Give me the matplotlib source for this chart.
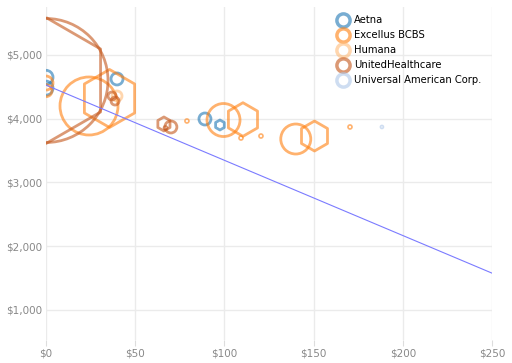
import matplotlib
matplotlib.use("Agg")
import matplotlib.pyplot as plt
from matplotlib.lines import Line2D
from matplotlib.ticker import FuncFormatter

# ---- data ----
companies = ["Aetna", "Excellus BCBS", "Humana", "UnitedHealthcare", "Universal American Corp."]
colors = ["#1f77b4", "#ff7f0e", "#ffbb78", "#c4561a", "#aec7e8"]

# each point: company index, premium ($), deductible-like value ($), bubble radius value, shape
pt_company = [0, 0, 0, 0, 0,
              1, 1, 1, 1, 1, 1, 1, 1, 1, 1, 1, 1,
              2,
              3, 3, 3, 3, 3, 3, 3,
              4]
pt_x = [0, 0, 39.8, 89.1, 97.5,
        0, 0, 24.1, 35.6, 99.5, 110.4, 140, 150.5, 170.4, 79, 109.3, 120.5,
        39.8,
        0, 0, 37, 38.7, 66.1, 70, 67,
        188.3]
pt_y = [4650, 4480, 4624, 3996, 3902,
        4560, 4440, 4200, 4318, 3980, 3988, 3682, 3729, 3871, 3965, 3698, 3729,
        4357,
        4600, 4600, 4357, 4278, 3918, 3871, 3855,
        3871]
pt_size = [7, 7, 6, 6, 5,
           7, 6, 29, 29, 16.5, 16.8, 15, 15, 2, 2, 2, 2,
           5,
           62, 63, 4, 4, 7, 6, 2,
           1.5]
pt_shape = ["o", "o", "o", "o", "h",
            "o", "o", "o", "h", "o", "h", "o", "h", "o", "o", "o", "o",
            "o",
            "o", "h", "o", "o", "h", "o", "o",
            "o"]

trend_x = [0, 250]
trend_y = [4528, 1578]

x_ticks = [0, 50, 100, 150, 200, 250]
y_ticks = [1000, 2000, 3000, 4000, 5000]

# ---- plot ----
fig = plt.figure(figsize=(5.12, 3.63), dpi=100)
ax = fig.add_axes([46/512, 1-340/363, (492-46)/512, (340-7)/363])

for i in range(len(pt_x)):
    c = colors[pt_company[i]]
    r = pt_size[i]
    s = (1.44 * r) ** 2
    lw = 2.0 if r > 3 else 1.2
    ax.scatter([pt_x[i]], [pt_y[i]], s=s, marker=pt_shape[i], facecolors="none",
               edgecolors=c, linewidths=lw, alpha=0.6, zorder=3)

ax.plot(trend_x, trend_y, color="#7b7bff", lw=0.8, zorder=4)

ax.set_xlim(0, 250)
ax.set_ylim(529, 5753)
ax.set_xticks(x_ticks)
ax.set_yticks(y_ticks)
ax.xaxis.set_major_formatter(FuncFormatter(lambda v, p: f"${v:,.0f}"))
ax.yaxis.set_major_formatter(FuncFormatter(lambda v, p: f"${v:,.0f}"))
for sp in ax.spines.values():
    sp.set_visible(False)
ax.grid(True, color="#ebebeb", lw=1)
ax.set_axisbelow(True)
ax.tick_params(axis="x", length=4, color="#dddddd", labelsize=7.5, labelcolor="#888888", pad=2)
ax.tick_params(axis="y", length=0, labelsize=7.5, labelcolor="#888888", pad=3)

handles = [Line2D([], [], marker="o", linestyle="none", markersize=9.5,
                  markerfacecolor="none", markeredgecolor=c, markeredgewidth=2.5, alpha=0.6)
           for c in colors]
leg = fig.legend(handles, companies, loc="upper left", bbox_to_anchor=(338/512, 1-15/363),
                 frameon=False, fontsize=7.2, handlelength=1.05, handletextpad=0.55,
                 labelspacing=0.5, borderpad=0, borderaxespad=0)

fig.savefig("out.png", dpi=100)
